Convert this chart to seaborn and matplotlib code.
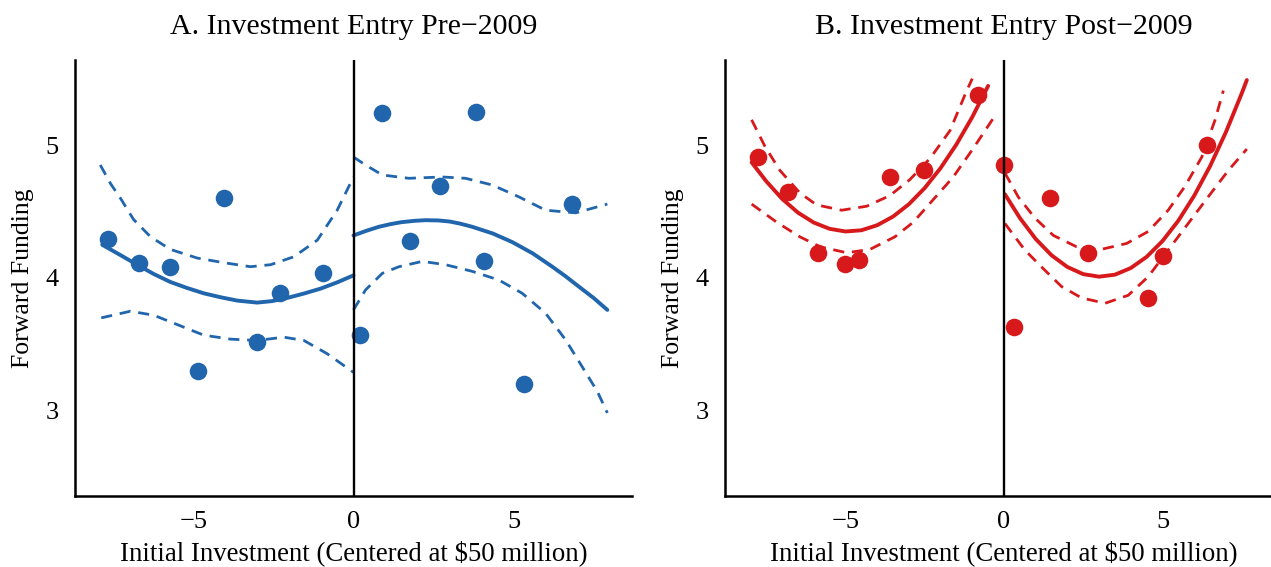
import numpy as np
import pandas as pd
import seaborn as sns
import matplotlib.pyplot as plt

# Scatter points (bin means)
pre_x = [-7.68, -6.69, -5.74, -4.87, -4.03, -3.01, -2.31, -0.96,
         0.21, 0.88, 1.78, 2.70, 3.83, 4.08, 5.32, 6.83]
pre_y = [4.29, 4.11, 4.08, 3.30, 4.60, 3.52, 3.89, 4.04,
         3.57, 5.24, 4.28, 4.69, 5.25, 4.13, 3.20, 4.56]

post_x = [-7.75, -6.82, -5.86, -5.02, -4.56, -3.58, -2.52, -0.81,
          0.01, 0.33, 1.45, 2.64, 4.55, 5.03, 6.40]
post_y = [4.91, 4.65, 4.19, 4.105, 4.135, 4.76, 4.81, 5.38,
          4.85, 3.63, 4.60, 4.19, 3.85, 4.165, 5.00]

# Panel A fitted curves and confidence bands (left / right of cutoff)
pre_fit_lx = [-7.85, -7.3, -6.76, -6.24, -5.72, -5.2, -4.68, -4.15, -3.63, -3.01,
              -2.55, -2.07, -1.55, -1.03, -0.5, 0.0]
pre_fit_ly = [4.25, 4.175, 4.10, 4.03, 3.97, 3.925, 3.885, 3.855, 3.83, 3.815,
              3.826, 3.85, 3.883, 3.92, 3.968, 4.02]
pre_hi_lx = [-7.91, -7.59, -7.28, -6.87, -6.34, -5.72, -4.88, -4.05, -3.22, -2.59, -1.86, -1.13, -0.51, 0.0]
pre_hi_ly = [4.85, 4.71, 4.60, 4.44, 4.31, 4.215, 4.15, 4.115, 4.085, 4.10, 4.16, 4.285, 4.51, 4.76]
pre_lo_lx = [-7.88, -6.97, -6.24, -5.51, -4.68, -3.84, -3.01, -2.18, -1.55, -0.82, 0.0]
pre_lo_ly = [3.70, 3.75, 3.72, 3.65, 3.57, 3.54, 3.53, 3.555, 3.53, 3.43, 3.29]

pre_fit_rx = [0.0, 0.4, 0.79, 1.15, 1.50, 1.9, 2.25, 2.65, 3.0, 3.35, 3.71, 4.35,
              4.96, 5.6, 6.21, 6.63, 7.04, 7.5, 7.93]
pre_fit_ry = [4.32, 4.355, 4.385, 4.405, 4.42, 4.43, 4.435, 4.433, 4.425, 4.408, 4.385, 4.335,
              4.27, 4.185, 4.085, 4.012, 3.935, 3.85, 3.76]
pre_hi_rx = [0.0, 0.375, 0.90, 1.73, 2.77, 3.50, 4.33, 5.17, 6.00, 6.94, 7.93]
pre_hi_ry = [4.91, 4.85, 4.775, 4.75, 4.76, 4.75, 4.70, 4.61, 4.51, 4.49, 4.556]
pre_lo_rx = [0.0, 0.375, 0.90, 1.42, 2.15, 2.875, 3.71, 4.54, 5.27, 6.00, 6.625, 7.15, 7.62, 7.93]
pre_lo_ry = [3.76, 3.91, 4.035, 4.085, 4.125, 4.10, 4.05, 3.985, 3.885, 3.735, 3.535, 3.33, 3.145, 2.985]

# Panel B fitted curves and confidence bands
post_fit_lx = [-7.96, -7.5, -7.0, -6.5, -6.0, -5.5, -5.0, -4.5, -4.0, -3.5, -3.0,
               -2.5, -2.0, -1.5, -1.0, -0.5]
post_fit_ly = [4.87, 4.728, 4.596, 4.492, 4.417, 4.370, 4.350, 4.359, 4.397, 4.462, 4.555,
               4.677, 4.827, 5.005, 5.211, 5.445]
post_hi_lx = [-7.96, -7.54, -7.07, -6.44, -5.91, -5.12, -4.33, -3.60, -2.97, -2.33, -1.70, -1.21, -1.00]
post_hi_ly = [5.19, 4.99, 4.81, 4.64, 4.55, 4.51, 4.54, 4.62, 4.74, 4.90, 5.11, 5.39, 5.50]
post_lo_lx = [-7.96, -7.17, -6.44, -5.80, -4.96, -4.23, -3.44, -2.86, -2.23, -1.60, -0.97, -0.23]
post_lo_ly = [4.556, 4.42, 4.31, 4.235, 4.19, 4.215, 4.31, 4.42, 4.59, 4.76, 4.975, 5.24]

post_fit_rx = [0.03, 0.5, 1.0, 1.5, 2.0, 2.5, 3.0, 3.5, 4.0, 4.5, 5.0, 5.5, 6.0, 6.5, 7.0, 7.5, 7.66]
post_fit_ry = [4.63, 4.452, 4.294, 4.171, 4.083, 4.029, 4.010, 4.025, 4.075, 4.159, 4.278,
               4.431, 4.619, 4.841, 5.097, 5.389, 5.489]
post_hi_rx = [0.03, 0.45, 0.98, 1.56, 2.29, 2.97, 3.87, 4.55, 5.18, 5.71, 6.24, 6.66, 6.92]
post_hi_ry = [4.79, 4.61, 4.45, 4.32, 4.235, 4.21, 4.26, 4.35, 4.51, 4.69, 4.91, 5.19, 5.41]
post_lo_rx = [0.03, 0.66, 1.24, 1.82, 2.45, 3.19, 3.92, 4.55, 5.18, 5.81, 6.44, 7.08, 7.66]
post_lo_ry = [4.41, 4.21, 4.07, 3.935, 3.85, 3.81, 3.87, 4.01, 4.21, 4.41, 4.61, 4.81, 4.97]

x_ticks = [-5, 0, 5]
x_tick_labels = ["\u22125", "0", "5"]
y_ticks = [3, 4, 5]
BLUE = "#2166ac"
RED = "#d7191c"

sns.set_theme(style="white")
plt.rcParams["font.family"] = ["Liberation Serif", "DejaVu Serif"]
plt.rcParams["text.color"] = "black"
plt.rcParams["axes.labelcolor"] = "black"

fig = plt.figure(figsize=(12.71, 5.67), dpi=100)
W, H = 1271, 567
axA = fig.add_axes([75 / W, 71 / H, 557 / W, 436 / H])
axB = fig.add_axes([725 / W, 71 / H, 557 / W, 436 / H])


def draw_panel(ax, px, py, curves, color, title, xlim):
    sns.scatterplot(x=px, y=py, color=color, s=160, linewidth=0, ax=ax, zorder=2)
    for cx, cy, solid in curves:
        if solid:
            sns.lineplot(x=cx, y=cy, color=color, linewidth=2.8, ax=ax, zorder=3)
        else:
            sns.lineplot(x=cx, y=cy, color=color, linewidth=2.0, ax=ax, zorder=3,
                         linestyle=(0, (4.0, 2.8)))
    ax.axvline(0, color="black", linewidth=1.7, zorder=4)
    ax.set_xlim(*xlim)
    ax.set_ylim(2.36, 5.64)
    ax.set_xticks(x_ticks)
    ax.set_xticklabels(x_tick_labels)
    ax.set_yticks(y_ticks)
    ax.tick_params(length=0, labelsize=19, colors="black")
    ax.tick_params(axis="x", pad=11)
    ax.tick_params(axis="y", pad=12)
    for side in ["top", "right"]:
        ax.spines[side].set_visible(False)
    for side in ["left", "bottom"]:
        ax.spines[side].set_color("black")
        ax.spines[side].set_linewidth(1.8)
    ax.set_title(title, fontsize=21.5, pad=19, color="black")
    ax.set_xlabel("Initial Investment (Centered at $50 million)", fontsize=19.3, labelpad=5)
    ax.set_ylabel("Forward Funding", fontsize=18.5, labelpad=8)


draw_panel(axA, pre_x, pre_y,
           [(pre_fit_lx, pre_fit_ly, True), (pre_hi_lx, pre_hi_ly, False), (pre_lo_lx, pre_lo_ly, False),
            (pre_fit_rx, pre_fit_ry, True), (pre_hi_rx, pre_hi_ry, False), (pre_lo_rx, pre_lo_ry, False)],
           BLUE, "A. Investment Entry Pre\u22122009", (-8.7, 8.7))
draw_panel(axB, post_x, post_y,
           [(post_fit_lx, post_fit_ly, True), (post_hi_lx, post_hi_ly, False), (post_lo_lx, post_lo_ly, False),
            (post_fit_rx, post_fit_ry, True), (post_hi_rx, post_hi_ry, False), (post_lo_rx, post_lo_ry, False)],
           RED, "B. Investment Entry Post\u22122009", (-8.8, 8.77))

fig.savefig("out.png", dpi=100)
